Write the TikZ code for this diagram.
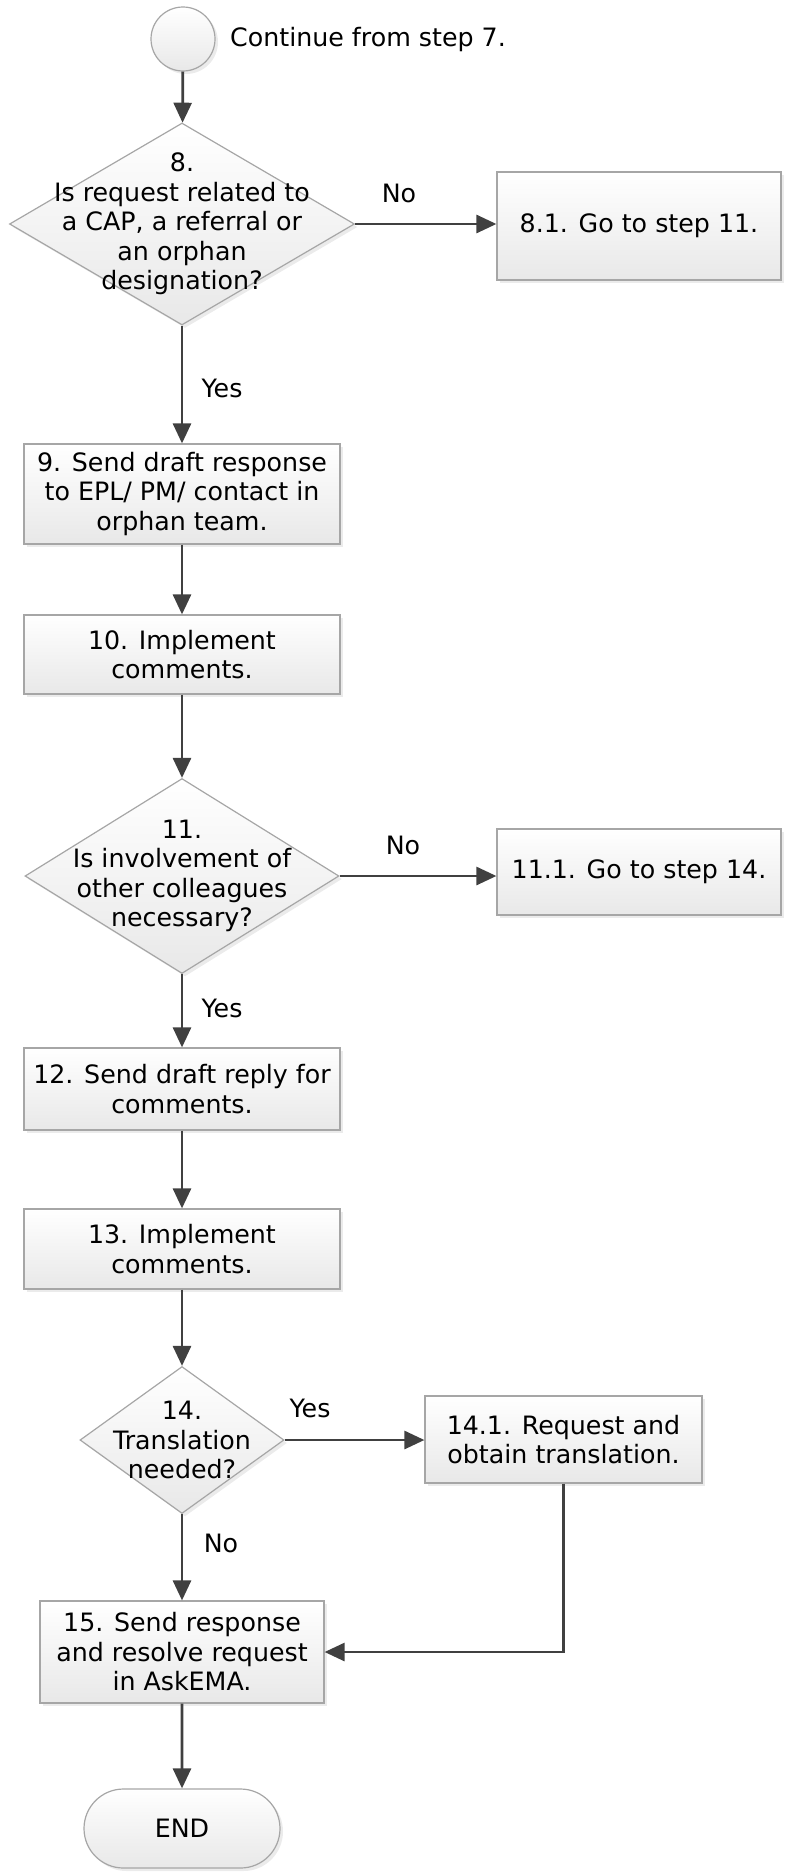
\documentclass[tikz,border=0pt]{standalone}
\usepackage{fontspec}
\setmainfont{DejaVu Sans}
\usepackage{tikz}
\usetikzlibrary{shapes.geometric,shapes.misc,arrows.meta,shadows}
\definecolor{edgegray}{HTML}{A6A6A6}
\definecolor{linegray}{HTML}{404040}
\tikzset{
	every node/.style={font=\fontsize{25.3}{29.5}\selectfont},
	boxfill/.style={draw=edgegray, line width=1.2pt, top color=white, bottom color=black!9,
		drop shadow={shadow xshift=3pt, shadow yshift=-3pt, opacity=0.2, fill=black!40}},
	process/.style={boxfill, rectangle, align=center, inner sep=0pt},
	decision/.style={boxfill, diamond, inner sep=0pt},
	flow/.style={draw=linegray, line width=2.8pt, -{Triangle[length=20pt,width=18pt]}},
	lbl/.style={inner sep=0pt}
}

\begin{document}
\begin{tikzpicture}[x=1pt,y=-1pt]
			%%%%% START %%%%%
			\useasboundingbox (0,0) rectangle (789,1874);
			
			\node[boxfill, circle, minimum size=64pt, inner sep=0pt] (start) at (183,39) {};
			\node[lbl, anchor=west] (startlbl) at (230,40) {Continue from step 7.};
			
			\node[decision, minimum width=345pt, minimum height=202pt] (d8) at (182,224) {};
			\node[align=center] (d8t) at (d8) {8.\\Is request related to\\a CAP, a referral or\\an orphan\\designation?};
			\node[process, minimum width=284pt, minimum height=108pt] (b81) at (639,226) {8.1. Go to step 11.};
			
			\node[process, minimum width=316pt, minimum height=100pt] (b9) at (182,494) {9. Send draft response\\to EPL/ PM/ contact in\\orphan team.};
			\node[process, minimum width=316pt, minimum height=79pt] (b10) at (182,654.5) {10. Implement\\comments.};
			
			\node[decision, minimum width=314pt, minimum height=195pt] (d11) at (182,876) {};
			\node[align=center] (d11t) at (d11) {11.\\Is involvement of\\other colleagues\\necessary?};
			\node[process, minimum width=284pt, minimum height=86pt] (b111) at (639,872) {11.1. Go to step 14.};
			
			\node[process, minimum width=316pt, minimum height=82pt] (b12) at (182,1089) {12. Send draft reply for\\comments.};
			\node[process, minimum width=316pt, minimum height=80pt] (b13) at (182,1249) {13. Implement\\comments.};
			
			\node[decision, minimum width=204pt, minimum height=147pt] (d14) at (182,1440) {};
			\node[align=center] (d14t) at (d14) {14.\\Translation\\needed?};
			\node[process, minimum width=277pt, minimum height=87pt] (b141) at (563.5,1439.5) {14.1. Request and\\obtain translation.};
			
			\node[process, minimum width=284pt, minimum height=102pt] (b15) at (182,1652) {15. Send response\\and resolve request\\in AskEMA.};
			\node[process, rounded rectangle, minimum width=196pt, minimum height=79pt] (stop) at (182,1828.5) {END};
			
			\node[lbl] (no8) at (399,193) {No};
			\node[lbl] (yes8) at (222,388) {Yes};
			\node[lbl] (no11) at (403,845) {No};
			\node[lbl] (yes11) at (222,1008) {Yes};
			\node[lbl] (yes14) at (310,1408) {Yes};
			\node[lbl] (no14) at (221,1543) {No};
			
			\draw[flow] (start) -- (d8);
			\draw[flow] (d8.east) -- (d8.east -| b81.west);
			\draw[flow] (d8) -- (b9);
			\draw[flow] (b9) -- (b10);
			\draw[flow] (b10) -- (d11);
			\draw[flow] (d11.east) -- (d11.east -| b111.west);
			\draw[flow] (d11) -- (b12);
			\draw[flow] (b12) -- (b13);
			\draw[flow] (b13) -- (d14);
			\draw[flow] (d14.east) -- (d14.east -| b141.west);
			\draw[flow] (d14) -- (b15);
			\draw[flow] (b141) |- (b15);
			\draw[flow] (b15) -- (stop);
			
			%%%%% END %%%%%
\end{tikzpicture}
\end{document}
